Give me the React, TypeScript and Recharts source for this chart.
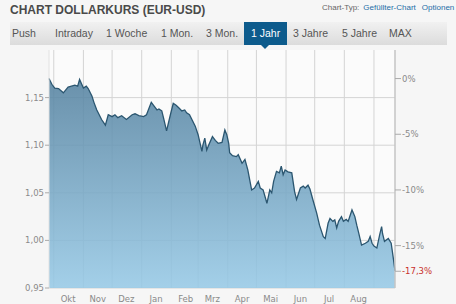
import React from 'react';
import { ComposedChart, Area, Line, XAxis, YAxis, CartesianGrid, Text } from 'recharts';

// days since 26.09.2021, EUR-USD close
const days = [
  0, 3, 6, 10, 15, 20, 27, 30, 32, 36, 39, 41, 45, 47, 50, 52, 55, 59, 62, 66,
  69, 72, 76, 81, 87, 90, 94, 99, 102, 107, 110, 113, 115, 118, 120, 123, 127, 130, 133, 136,
  139, 142, 144, 147, 153, 156, 160, 161, 163, 165, 167, 171, 174, 177, 181, 184, 186, 188, 189, 192,
  196, 198, 202, 205, 208, 212, 215, 219, 221, 224, 228, 231, 233, 235, 238, 241, 243, 245, 247, 250,
  254, 257, 259, 263, 266, 268, 271, 273, 276, 280, 283, 287, 289, 292, 294, 297, 299, 301, 303, 306,
  308, 311, 313, 317, 320, 322, 324, 327, 331, 334, 336, 338, 340, 343, 346, 348, 349, 351, 355, 358,
  360, 362,
];
const rates = [
  1.170, 1.164, 1.160, 1.1595, 1.155, 1.161, 1.163, 1.162, 1.169, 1.160, 1.162, 1.1595, 1.1515, 1.145, 1.137, 1.133, 1.127, 1.121, 1.132, 1.130,
  1.132, 1.129, 1.131, 1.127, 1.132, 1.133, 1.131, 1.130, 1.132, 1.145, 1.141, 1.137, 1.138, 1.136, 1.128, 1.115, 1.132, 1.144, 1.142, 1.139,
  1.136, 1.137, 1.134, 1.132, 1.120, 1.111, 1.0935, 1.100, 1.1075, 1.095, 1.100, 1.109, 1.105, 1.102, 1.103, 1.116, 1.111, 1.102, 1.092, 1.089,
  1.088, 1.090, 1.081, 1.085, 1.074, 1.053, 1.055, 1.062, 1.055, 1.053, 1.039, 1.053, 1.050, 1.062, 1.0725, 1.071, 1.078, 1.069, 1.074, 1.072,
  1.071, 1.051, 1.043, 1.055, 1.057, 1.055, 1.058, 1.054, 1.043, 1.029, 1.016, 1.004, 1.002, 1.018, 1.023, 1.020, 1.0215, 1.013, 1.020, 1.025,
  1.020, 1.022, 1.020, 1.032, 1.025, 1.016, 1.008, 0.995, 0.997, 0.999, 1.004, 0.997, 0.994, 0.992, 1.006, 1.0145, 1.007, 0.999, 1.002, 0.997,
  0.983, 0.968,
];

const monthStarts = [5, 36, 66, 97, 128, 156, 187, 217, 248, 278, 309, 340];
const monthLabels = ['Okt', 'Nov', 'Dez', 'Jan', 'Feb', 'Mrz', 'Apr', 'Mai', 'Jun', 'Jul', 'Aug'];
const rateTicks = [0.95, 1.0, 1.05, 1.1, 1.15];
const pctTicks = [0, -5, -10, -15, -17.3];
const tabs = ['Push', 'Intraday', '1 Woche', '1 Mon.', '3 Mon.', '1 Jahr', '3 Jahre', '5 Jahre', 'MAX'];
const tabLeft = [12, 55, 106, 161, 206, 251, 293, 342, 389];

const rateMin = 0.95;
const rateMax = 1.2;
const lastDay = 362;
const base = rates[0];

const data = days.map((d, i) => ({
  day: d,
  rate: rates[i],
  pct: (rates[i] / base - 1) * 100,
}));
const labelDays = monthLabels.map((_, i) => monthStarts[i] + 15);

const axisFont = { fontFamily: 'DejaVu Sans', fontSize: 8.5, fill: '#8a8a8a' };

const PctTick = (props: any) => {
  const { x, y, payload } = props;
  const v = payload.value;
  const label = v === 0 ? '0%' : String(v).replace('.', ',') + '%';
  const last = v === pctTicks[pctTicks.length - 1];
  return (
    <Text x={x} y={y} textAnchor="start" verticalAnchor="middle" {...axisFont} fill={last ? '#c9302c' : '#8a8a8a'}>
      {label}
    </Text>
  );
};

export default function App() {
  return (
    <div style={{ position: 'absolute', left: 0, top: 0, width: 456, height: 304, background: '#f6f6f6', overflow: 'hidden' }}>
      <div style={{ position: 'absolute', left: 10, top: 3, font: 'bold 12px "Liberation Sans", Arial, sans-serif', color: '#4a4a4a' }}>
        CHART DOLLARKURS (EUR-USD)
      </div>
      <div style={{ position: 'absolute', left: 322, top: 3, font: '8px "Liberation Sans", Arial, sans-serif', color: '#666' }}>
        Chart-Typ:
        <span style={{ color: '#1f6ea6', marginLeft: 4 }}>Gefüllter-Chart</span>
        <span style={{ color: '#1f6ea6', marginLeft: 6 }}>Optionen</span>
      </div>
      <div style={{ position: 'absolute', left: 10, top: 22, width: 437, height: 23, background: 'linear-gradient(#f1f1f1, #dcdcdc)' }} />
      <div style={{ position: 'absolute', left: 244, top: 22, width: 43, height: 23, background: '#0d5b8c' }} />
      <div style={{ position: 'absolute', left: 261, top: 45, width: 0, height: 0, borderLeft: '4px solid transparent', borderRight: '4px solid transparent', borderTop: '4px solid #0d5b8c' }} />
      {tabs.map((t, i) => (
        <div key={t} style={{ position: 'absolute', left: tabLeft[i], top: 27, font: '10.5px "Liberation Sans", Arial, sans-serif', color: t === '1 Jahr' ? '#fff' : '#555', whiteSpace: 'nowrap' }}>
          {t}
        </div>
      ))}
      <div style={{ position: 'absolute', left: 0, top: 0 }}>
        <ComposedChart width={456} height={304} data={data} margin={{ top: 50, right: 0, bottom: 0, left: 0 }}>
          <defs>
            <linearGradient id="fillRate" x1="0" y1="0" x2="0" y2="1">
              <stop offset="0%" stopColor="#54819f" />
              <stop offset="100%" stopColor="#96c9e6" />
            </linearGradient>
          </defs>
          <XAxis
            dataKey="day"
            type="number"
            domain={[0, lastDay]}
            ticks={labelDays}
            tickFormatter={(d: number) => monthLabels[labelDays.indexOf(d)]}
            tickLine={false}
            axisLine={false}
            tick={axisFont}
            tickMargin={2}
            height={16}
            interval={0}
          />
          <YAxis
            domain={[rateMin, rateMax]}
            ticks={rateTicks}
            tickFormatter={(v: number) => v.toFixed(2).replace('.', ',')}
            tick={axisFont}
            tickSize={4}
            tickLine={{ stroke: '#aaa' }}
            axisLine={{ stroke: '#e2e2e2' }}
            tickMargin={1}
            width={49}
            interval={0}
          />
          <YAxis
            yAxisId="pct"
            orientation="right"
            domain={[(rateMin / base - 1) * 100, (rateMax / base - 1) * 100]}
            ticks={pctTicks}
            tick={<PctTick />}
            tickSize={6}
            tickLine={{ stroke: '#aaa' }}
            axisLine={{ stroke: '#c4c4c4', strokeWidth: 1.5 }}
            tickMargin={1}
            width={61}
            interval={0}
            allowDataOverflow
          />
          <CartesianGrid fill="#fbfbfb" stroke="#d4d4d4" verticalValues={monthStarts} horizontalValues={rateTicks} />
          <Area
            dataKey="rate"
            type="linear"
            stroke="#2b5670"
            strokeWidth={1.3}
            fill="url(#fillRate)"
            fillOpacity={0.87}
            baseValue={rateMin}
            dot={false}
            activeDot={false}
            isAnimationActive={false}
          />
          <Line yAxisId="pct" dataKey="pct" stroke="none" dot={false} activeDot={false} isAnimationActive={false} />
        </ComposedChart>
      </div>
    </div>
  );
}
